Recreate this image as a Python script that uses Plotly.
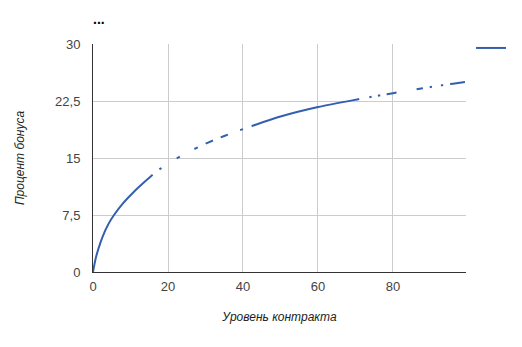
import plotly.graph_objects as go
import numpy as np

# ---- data ----
contract_level = [0, 0.7, 1.4, 2.6, 4.1, 5.6, 8.1, 10.8, 13.4, 15.9, 18, 22.5, 27.5, 31, 35, 40,
                  42.3, 50, 60, 71, 74, 76.3, 80, 86.3, 90, 93, 96, 99.2]
bonus_percent = [0, 1.75, 3.0, 4.7, 6.3, 7.5, 9.1, 10.5, 11.7, 12.8, 13.6, 15.0, 16.3, 17.1, 17.9, 18.8,
                 19.2, 20.45, 21.7, 22.75, 23.02, 23.22, 23.53, 24.04, 24.33, 24.56, 24.78, 25.01]
y_tickvals = [0, 7.5, 15, 22.5, 30]
y_ticktext = ["0", "7,5", "15", "22,5", "30"]
x_tickvals = [0, 20, 40, 60, 80]
x_ticktext = ["0", "20", "40", "60", "80"]

# ---- layout geometry / style ----
W, H = 522, 347
ML, MR, MT, MB = 93, 56, 44, 75
XR = [0, 99.47]
YR = [0, 30]
pw, ph = W - ML - MR, H - MT - MB
sx, sy = pw / (XR[1] - XR[0]), ph / (YR[1] - YR[0])

# line style segments (in x units along the curve): solid / dash pieces, dots
style_pieces = [(0, 15.9), (18.0, None), (22.3, 23.2), (27.0, 28.0), (30.0, 32.0), (34.0, 36.0),
                (39.2, 40.0), (42.3, 71.0), (74.0, None), (76.3, None), (78.3, 81.0), (86.3, 88.0),
                (90.1, None), (93.1, None), (95.2, 99.2)]
DOT = 2.6

xs = np.array(contract_level) * sx
ys = np.array(bonus_percent) * sy
seg = np.hypot(np.diff(xs), np.diff(ys))
cum = np.concatenate([[0], np.cumsum(seg)])


def arc(xv):
    return float(np.interp(xv, contract_level, cum))


dash = []
pos = 0.0
for a, b in style_pieces:
    if b is None:
        s = arc(a) - DOT / 2
        e = arc(a) + DOT / 2
    else:
        s, e = arc(a), arc(b)
    if dash:
        dash.append(max(s - pos, 0.1))
    dash.append(max(e - s, 0.1))
    pos = e
dash.append(500)
dash_str = ",".join(f"{d:.2f}px" for d in dash)

LINE_COLOR = "#335fae"

fig = go.Figure()
fig.add_trace(go.Scatter(
    x=contract_level, y=bonus_percent, mode="lines", name=" ",
    line=dict(color=LINE_COLOR, width=2, dash=dash_str, simplify=False, shape="spline", smoothing=0.8),
    showlegend=True,
))

font_family = "Liberation Sans, Arial, sans-serif"
fig.update_layout(
    width=W, height=H,
    margin=dict(l=ML, r=MR, t=MT, b=MB, pad=0, autoexpand=False),
    paper_bgcolor="white", plot_bgcolor="white",
    font=dict(family=font_family, size=13, color="#444444"),
    title=dict(text="<b>...</b>", x=ML / W, xanchor="left", y=1 - 19 / H, yanchor="middle",
               xref="container", yref="container", font=dict(size=14, color="#000000")),
    xaxis=dict(range=XR, tickvals=x_tickvals, ticktext=x_ticktext, showgrid=True, gridcolor="#cccccc",
               gridwidth=1, zeroline=False, showline=True, linecolor="#333333", linewidth=1,
               ticks="", ticklabelstandoff=2, automargin=False,
               title=dict(text="<i>Уровень контракта</i>", standoff=20,
                          font=dict(size=12, color="#222222"))),
    yaxis=dict(range=YR, tickvals=y_tickvals, ticktext=y_ticktext, showgrid=True, gridcolor="#cccccc",
               gridwidth=1, zeroline=False, showline=True, linecolor="#333333", linewidth=1,
               ticks="", ticklabelstandoff=9, automargin=False,
               title=dict(text="<i>Процент бонуса</i>", standoff=27,
                          font=dict(size=12, color="#222222"))),
    legend=dict(x=(471 - ML) / pw, y=(272 - 48) / ph, xanchor="left", yanchor="middle",
                bgcolor="rgba(0,0,0,0)", font=dict(size=13), itemwidth=30),
)

fig.write_html("out.html")
